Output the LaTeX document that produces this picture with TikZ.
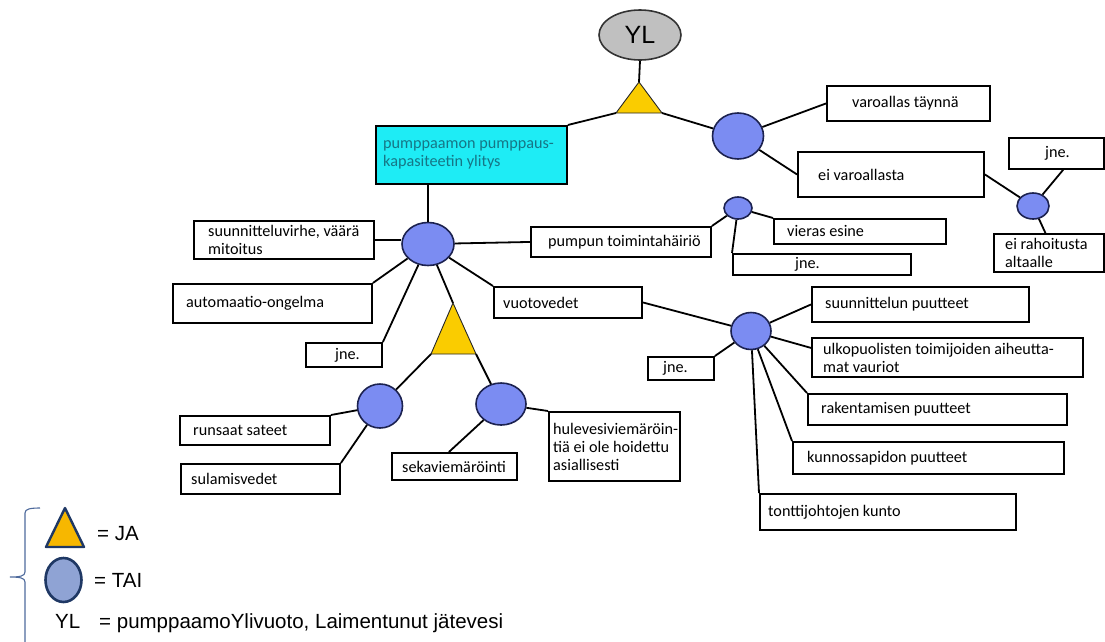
\documentclass[tikz,border=0pt]{standalone}
\usepackage{fontspec}
\setmainfont{Carlito}
\newfontfamily\legendfont{Liberation Sans}
\usetikzlibrary{shapes.geometric}

\definecolor{orfill}{RGB}{123,140,242}
\definecolor{orline}{RGB}{28,34,80}
\definecolor{andfill}{RGB}{250,204,0}
\definecolor{cyanfill}{RGB}{30,236,245}
\definecolor{cyantext}{RGB}{22,118,134}
\definecolor{ylfill}{RGB}{192,192,192}
\definecolor{legnavy}{RGB}{31,56,100}
\definecolor{legand}{RGB}{247,183,0}
\definecolor{legor}{RGB}{143,163,212}
\definecolor{bracecol}{RGB}{78,106,156}

\newcommand\diagfont{\fontsize{16.2}{18}\selectfont}
\newcommand\legfont{\legendfont\fontsize{20.5}{22}\selectfont}

% event box: name, x1, y1, x2, y2, left padding of the text, text
\newcommand\lbox[7]{%
  \pgfmathsetmacro\bxw{#4-#2}%
  \pgfmathsetmacro\bxh{#5-#3}%
  \node[box, anchor=north west, minimum width=\bxw pt, minimum height=\bxh pt,
        label={[boxtext, inner xsep=#6pt]west:{#7}}] (#1) at (#2,#3) {};}

\tikzset{
  conn/.style={line width=1.8pt, black},
  box/.style={draw=black, line width=1.9pt, rectangle, inner sep=0pt},
  boxtext/.style={anchor=west, inner ysep=0pt, align=left, font=\diagfont},
  orgate/.style={ellipse, draw=orline, fill=orfill, line width=1.6pt, inner sep=0pt},
  andgate/.style={fill=andfill, draw=black!85, line width=0.9pt, line join=miter},
}

\begin{document}
\begin{tikzpicture}[x=1pt, y=-1pt]
\useasboundingbox (0,0) rectangle (1105,641);

% ---- top event and first AND gate
\node[ellipse, draw=black!80, fill=ylfill, line width=1.6pt, minimum width=82pt,
      minimum height=50pt, inner sep=0pt, font=\legendfont\fontsize{25}{25}\selectfont]
      (YL) at (640,35) {YL};
\coordinate (t1a) at (639,82);
\coordinate (t1l) at (616,113);
\coordinate (t1r) at (662,113);
\filldraw[andgate] (t1a) -- (t1l) -- (t1r) -- cycle;

\node[box, fill=cyanfill, anchor=north west, minimum width=191pt, minimum height=58pt,
      label={[boxtext, text=cyantext, inner xsep=8pt]west:{pumppaamon pumppaus-\\kapasiteetin ylitys}}]
      (cap) at (375,125) {};

% ---- OR gates
\node[orgate, minimum width=52pt, minimum height=43pt] (orA) at (428,244) {};
\node[orgate, minimum width=51pt, minimum height=46pt] (orB) at (738,136) {};
\node[orgate, minimum width=32pt, minimum height=26pt] (orC) at (1033,206) {};
\node[orgate, minimum width=28pt, minimum height=22pt] (orD) at (738,208) {};
\node[orgate, minimum width=40pt, minimum height=37pt] (orE) at (751,331) {};
\node[orgate, minimum width=45pt, minimum height=44pt] (orF) at (380,406) {};
\node[orgate, minimum width=50pt, minimum height=42pt] (orG) at (501,404) {};

% ---- second AND gate
\coordinate (t2a) at (453,303);
\coordinate (t2l) at (431,354);
\coordinate (t2r) at (476,354);
\filldraw[andgate] (t2a) -- (t2l) -- (t2r) -- cycle;

% ---- event boxes
\lbox{varo}{826}{85}{989}{120}{26}{varoallas täynnä}
\lbox{eivaro}{797}{151}{983}{196}{21}{ei varoallasta}
\lbox{jneA}{1008}{137}{1103}{168}{37}{jne.}
\lbox{rah}{993}{233}{1103}{271}{12}{ei rahoitusta\\altaalle}
\lbox{pump}{530}{226}{710}{256}{18}{pumpun toimintahäiriö}
\lbox{vier}{773}{218}{945}{243}{14}{vieras esine}
\lbox{jneB}{732}{253}{910}{274}{63}{jne.}
\lbox{sv}{193}{220}{373}{258}{15}{suunnitteluvirhe, väärä\\mitoitus}
\lbox{auto}{172}{283}{371}{322}{14}{automaatio-ongelma}
\lbox{jneC}{305}{342}{381}{366}{30}{jne.}
\lbox{vuoto}{493}{286}{641}{317}{10}{vuotovedet}
\lbox{jneD}{647}{356}{713}{379}{16}{jne.}
\lbox{sp}{811}{286}{1028}{321}{14}{suunnittelun puutteet}
\lbox{ulko}{811}{337}{1082}{376}{12}{ulkopuolisten toimijoiden aiheutta-\\mat vauriot}
\lbox{rak}{807}{393}{1066}{424}{14}{rakentamisen puutteet}
\lbox{kun}{792}{441}{1063}{473}{15}{kunnossapidon puutteet}
\lbox{tont}{759}{493}{1015}{529}{9}{tonttijohtojen kunto}
\lbox{runs}{179}{415}{329}{444}{14}{runsaat sateet}
\lbox{sul}{180}{463}{339}{493}{11}{sulamisvedet}
\lbox{seka}{391}{452}{516}{479}{11}{sekaviemäröinti}
\lbox{hule}{548}{411}{679}{480}{5}{hulevesiviemäröin-\\tiä ei ole hoidettu\\asiallisesti}

% ---- connectors
\draw[conn] (YL.south) -- (t1a);
\draw[conn] (t1l) -- (cap.north east);
\draw[conn] (t1r) -- (orB);
\draw[conn] (orA.north |- cap.south) -- (orA.north);
\draw[conn] (orB) -- (varo.west);
\draw[conn] (orB) -- (eivaro.west);
\draw[conn] (eivaro.east) -- (orC);
\draw[conn] (orC) -- (jneA.-68);
\draw[conn] (orC) -- (rah.100);
\draw[conn] (sv.east) -- (sv.east -| orA.west);
\draw[conn] (orA) -- (pump.west);
\draw[conn] (auto.north east) -- (orA);
\draw[conn] (jneC.north east) -- (orA);
\draw[conn] (orA) -- (t2a);
\draw[conn] (orA) -- (vuoto.north west);
\draw[conn] (pump.north east) -- (orD);
\draw[conn] (orD) -- (vier.north west);
\draw[conn] (orD) -- (jneB.north west);
\draw[conn] (vuoto.east) -- (orE);
\draw[conn] (jneD.north east) -- (orE);
\draw[conn] (orE) -- (sp.west);
\draw[conn] (orE) -- (ulko.176);
\draw[conn] (orE) -- (rak.north west);
\draw[conn] (orE) -- (kun.north west);
\draw[conn] (orE) -- (tont.north west);
\draw[conn] (t2l) -- (orF);
\draw[conn] (t2r) -- (orG);
\draw[conn] (runs.north east) -- (orF);
\draw[conn] (sul.north east) -- (orF);
\draw[conn] (seka.111) -- (orG);
\draw[conn] (orG) -- (hule.north west);

% ---- legend
\draw[bracecol, line width=1.1pt]
  (40,508) .. controls (30,508) and (25,509) .. (25,513) -- (25,572)
  .. controls (25,576) and (20,577) .. (10,577)
  .. controls (20,577) and (25,578) .. (25,582) -- (25,645);
\coordinate (lta) at (65,508);
\coordinate (ltl) at (46,547);
\coordinate (ltr) at (84,547);
\filldraw[fill=legand, draw=legnavy, line width=2.4pt, line join=round]
  (lta) -- (ltl) -- (ltr) -- cycle;
\node[ellipse, fill=legor, draw=legnavy, line width=2.6pt, inner sep=0pt,
      minimum width=36pt, minimum height=44pt] (legor) at (63.5,580) {};
\node[anchor=base west, inner sep=0pt, font=\legfont] (legA) at (97,540) {= JA};
\node[anchor=base west, inner sep=0pt, font=\legfont] (legO) at (94,587) {= TAI};
\node[anchor=base west, inner sep=0pt, font=\legfont] (legY) at (55,628) {YL};
\node[anchor=base west, inner sep=0pt, font=\legfont] (legYd) at (99,628)
  {= pumppaamoYlivuoto, Laimentunut jätevesi};
\end{tikzpicture}
\end{document}
